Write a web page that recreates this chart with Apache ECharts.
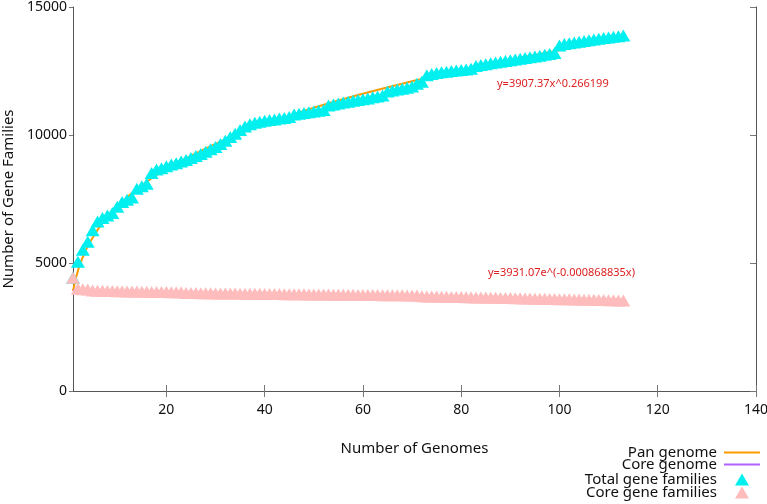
<!DOCTYPE html>
<html>
<head>
<meta charset="utf-8">
<script src="https://cdn.jsdelivr.net/npm/echarts@6/dist/echarts.min.js"></script>
<style>
  html, body { margin: 0; padding: 0; background: #ffffff; }
  #main { width: 767px; height: 504px; }
</style>
</head>
<body>
<div id="main"></div>
<script>
// genome counts (x) and gene families
var totalFamilies = [
  4420, 5050, 5520, 5830, 6280, 6620, 6760, 6860, 6950, 7200,
  7380, 7470, 7560, 7900, 8000, 8100, 8520, 8650, 8700, 8780,
  8850, 8900, 8960, 9020, 9100, 9180, 9260, 9350, 9440, 9530,
  9650, 9780, 9920, 10050, 10200, 10330, 10420, 10480, 10520, 10560,
  10590, 10610, 10640, 10660, 10700, 10800, 10830, 10860, 10890, 10920,
  10950, 10980, 11150, 11190, 11230, 11270, 11300, 11340, 11370, 11400,
  11430, 11470, 11500, 11540, 11700, 11740, 11780, 11810, 11850, 11890,
  12000, 12080, 12330, 12380, 12420, 12450, 12470, 12500, 12520, 12540,
  12560, 12590, 12700, 12730, 12760, 12800, 12830, 12860, 12890, 12920,
  12950, 12980, 13010, 13040, 13070, 13100, 13130, 13160, 13200, 13500,
  13550, 13580, 13610, 13640, 13670, 13700, 13730, 13760, 13790, 13810,
  13840, 13860, 13890
];
var coreFamilies = [
  4420, 3990, 3975, 3960, 3925, 3920, 3915, 3910, 3905, 3900,
  3895, 3890, 3885, 3882, 3878, 3875, 3872, 3869, 3866, 3863,
  3860, 3857, 3854, 3830, 3827, 3824, 3821, 3818, 3815, 3812,
  3810, 3808, 3806, 3804, 3802, 3800, 3798, 3796, 3794, 3792,
  3790, 3788, 3786, 3784, 3782, 3780, 3778, 3776, 3774, 3772,
  3770, 3768, 3766, 3764, 3762, 3760, 3758, 3756, 3754, 3752,
  3750, 3748, 3746, 3744, 3742, 3740, 3738, 3736, 3734, 3732,
  3730, 3700, 3696, 3692, 3688, 3684, 3680, 3676, 3672, 3668,
  3664, 3660, 3656, 3652, 3648, 3644, 3640, 3636, 3632, 3628,
  3624, 3620, 3616, 3612, 3608, 3604, 3600, 3596, 3592, 3588,
  3584, 3580, 3576, 3572, 3568, 3564, 3560, 3556, 3552, 3548,
  3544, 3540, 3536
];

// fitted curves, points
var panFitX = [1, 2, 3, 4, 6, 8, 12, 16, 20, 30, 40, 50, 60, 70, 80, 90, 100, 113];
var panFitY = [3907, 4699, 5228, 5651, 6295, 6794, 7567, 8170, 8670, 9655, 10425, 11062, 11611, 12099, 12535, 12934, 13313, 13751];
var coreFitX = [1, 20, 40, 60, 80, 100, 113];
var coreFitY = [3928, 3863, 3797, 3731, 3667, 3604, 3561];

var xTicks = [20, 40, 60, 80, 100, 120, 140];

function pairs(xs, ys) {
  var out = [];
  for (var i = 0; i < xs.length; i++) out.push([xs[i], ys[i]]);
  return out;
}
function byGenome(ys) {
  var out = [];
  for (var i = 0; i < ys.length; i++) out.push([i + 1, ys[i]]);
  return out;
}

var chart = echarts.init(document.getElementById('main'));
var font = 'Noto Sans';

function legendRow(name, top, isLine) {
  return {
    data: [{ name: name, icon: isLine ? 'rect' : 'triangle' }],
    orient: 'vertical',
    align: 'right',
    padding: 0,
    right: isLine ? 7 : 18,
    top: top,
    itemWidth: isLine ? 36 : 14,
    itemHeight: isLine ? 2 : 12,
    selectedMode: false,
    textStyle: {
      fontFamily: font, fontSize: 15, color: '#111',
      padding: isLine ? [0, 2, 0, 0] : [0, 13, 0, 0]
    }
  };
}

var option = {
  backgroundColor: '#ffffff',
  animation: false,
  grid: { left: 73, right: 11, top: 7, bottom: 113, outerBoundsMode: 'none', containLabel: false },
  legend: [
    legendRow('Pan genome', 445, true),
    legendRow('Core genome', 457, true),
    legendRow('Total gene families', 472, false),
    legendRow('Core gene families', 485, false)
  ],
  xAxis: [
    {
      type: 'value',
      min: 1,
      max: 140,
      name: 'Number of Genomes',
      nameLocation: 'middle',
      nameGap: 50,
      nameTextStyle: { fontFamily: font, fontSize: 15, color: '#111' },
      axisLine: { lineStyle: { color: '#555', width: 1 } },
      axisTick: { inside: true, length: 6, customValues: xTicks, lineStyle: { color: '#777' } },
      axisLabel: { customValues: xTicks, fontFamily: font, fontSize: 14, color: '#111', margin: 12 },
      splitLine: { show: false }
    },
    {
      type: 'value',
      position: 'top',
      min: 1,
      max: 140,
      axisLine: { show: true, lineStyle: { color: '#555', width: 1 } },
      axisTick: { inside: true, length: 6, customValues: xTicks, lineStyle: { color: '#777' } },
      axisLabel: { show: false },
      splitLine: { show: false }
    }
  ],
  yAxis: [
    {
      type: 'value',
      min: 0,
      max: 15000,
      interval: 5000,
      name: 'Number of Gene Families',
      nameLocation: 'middle',
      nameGap: 51,
      nameTextStyle: { fontFamily: font, fontSize: 15, color: '#111' },
      axisLine: { show: true, lineStyle: { color: '#555', width: 1 } },
      axisTick: { show: true, length: 4, lineStyle: { color: '#777' } },
      axisLabel: {
        fontFamily: font, fontSize: 14, color: '#111', margin: 6,
        formatter: function (v) { return String(v); }
      },
      splitLine: { show: false }
    },
    {
      type: 'value',
      position: 'right',
      min: 0,
      max: 15000,
      interval: 5000,
      axisLine: { show: true, lineStyle: { color: '#555', width: 1 } },
      axisTick: { show: true, inside: true, length: 6, lineStyle: { color: '#777' } },
      axisLabel: { show: false },
      splitLine: { show: false }
    }
  ],
  graphic: [
    { type: 'text', left: 497, top: 78,
      style: { text: 'y=3907.37x^0.266199', fill: '#dd2020', font: '11px "Noto Sans"' } },
    { type: 'text', left: 488, top: 267,
      style: { text: 'y=3931.07e^(-0.000868835x)', fill: '#dd2020', font: '11px "Noto Sans"' } }
  ],
  series: [
    {
      name: 'Pan genome',
      type: 'line',
      z: 1,
      data: pairs(panFitX, panFitY),
      smooth: true,
      symbol: 'none',
      lineStyle: { color: '#ff9a00', width: 2 },
      itemStyle: { color: '#ff9a00' }
    },
    {
      name: 'Core genome',
      type: 'line',
      z: 1,
      data: pairs(coreFitX, coreFitY),
      smooth: true,
      symbol: 'none',
      lineStyle: { color: '#b060ff', width: 2 },
      itemStyle: { color: '#b060ff' }
    },
    {
      name: 'Total gene families',
      type: 'scatter',
      z: 3,
      data: byGenome(totalFamilies),
      symbol: 'triangle',
      symbolSize: [14, 12],
      itemStyle: { color: '#00f0f0', opacity: 1 }
    },
    {
      name: 'Core gene families',
      type: 'scatter',
      z: 4,
      data: byGenome(coreFamilies),
      symbol: 'triangle',
      symbolSize: [14, 12],
      itemStyle: { color: '#ffbcbc', opacity: 1 }
    }
  ]
};

chart.setOption(option);
</script>
</body>
</html>
